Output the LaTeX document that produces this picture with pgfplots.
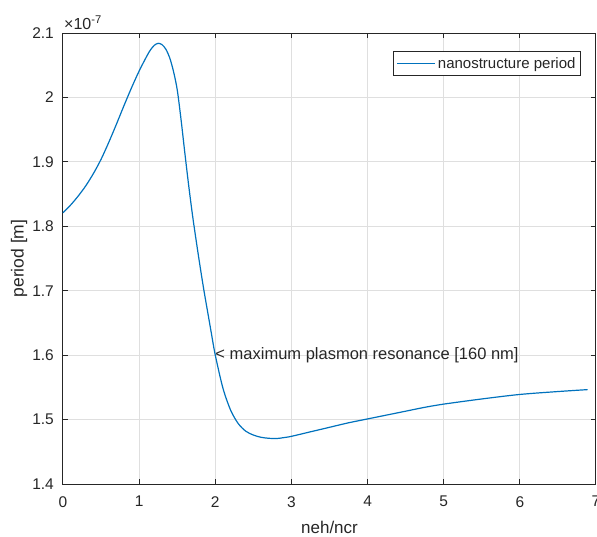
\documentclass[border=0pt]{standalone}
\usepackage{fontspec}
\setmainfont{Liberation Sans}
\usepackage{pgfplots}
\pgfplotsset{compat=1.18}
\definecolor{mlblue}{HTML}{0072BD}
\definecolor{mlaxis}{HTML}{262626}
\definecolor{mlgrid}{HTML}{DFDFDF}

\begin{document}
\begin{tikzpicture}
\begin{axis}[
  name=ax,
  at={(0pt,0pt)},anchor=south west,
  width=533pt,height=451pt,scale only axis,
  xmin=0,xmax=7,ymin=1.4e-7,ymax=2.1e-7,
  xtick={0,1,...,7},
  xticklabels={0,1,2,3,4,5,6,7},
  ytick={1.4e-7,1.5e-7,1.6e-7,1.7e-7,1.8e-7,1.9e-7,2.0e-7,2.1e-7},
  yticklabels={1.4,1.5,1.6,1.7,1.8,1.9,2,2.1},
  scaled y ticks=false,
  axis line style={draw=mlaxis,line width=1pt},
  tick style={draw=mlaxis,line width=1pt},
  major tick length=5pt,
  tick align=inside,
  xmajorgrids,ymajorgrids,
  major grid style={draw=mlgrid,line width=1pt},
  ticklabel style={font=\fontsize{15.5}{17}\selectfont,text=mlaxis},
  xticklabel style={anchor=north,inner sep=0pt,yshift=-12pt},
  yticklabel style={anchor=east,inner sep=0pt,xshift=-9pt},
  xlabel={neh/ncr},
  ylabel={period [m]},
  every axis x label/.style={at={(axis description cs:0.5,0)},anchor=center,yshift=-43pt,font=\fontsize{17}{20}\selectfont,text=mlaxis},
  every axis y label/.style={at={(axis description cs:0,0.5)},xshift=-44pt,anchor=center,rotate=90,font=\fontsize{17.5}{20}\selectfont,text=mlaxis},
  legend style={at={(rel axis cs:1,1)},anchor=north east,xshift=-15pt,yshift=-18pt,
    draw=mlaxis,line width=0.9pt,fill=white,inner xsep=3pt,inner ysep=4pt,
    font=\fontsize{15}{17}\selectfont,text=mlaxis,
    nodes={inner sep=2pt}},
  legend cell align=left,
  legend image code/.code={\draw[#1] (0pt,0pt) -- (38pt,0pt);},
  clip=false,
]
\addplot[color=mlblue,line width=1.2pt,smooth] coordinates {
(0.00,1.821e-7) (0.10,1.833e-7) (0.20,1.847e-7) (0.30,1.863e-7) (0.40,1.882e-7)
(0.50,1.904e-7) (0.60,1.930e-7) (0.70,1.958e-7) (0.80,1.987e-7) (0.90,2.015e-7)
(1.00,2.041e-7) (1.10,2.064e-7) (1.15,2.074e-7) (1.20,2.081e-7) (1.25,2.084e-7)
(1.30,2.082e-7) (1.35,2.075e-7) (1.40,2.062e-7) (1.45,2.041e-7) (1.50,2.012e-7)
(1.55,1.966e-7) (1.60,1.914e-7) (1.65,1.864e-7) (1.70,1.818e-7) (1.75,1.777e-7)
(1.80,1.738e-7) (1.85,1.701e-7) (1.90,1.667e-7) (1.95,1.633e-7) (2.00,1.600e-7)
(2.10,1.549e-7) (2.20,1.515e-7) (2.30,1.494e-7) (2.40,1.482e-7) (2.50,1.476e-7)
(2.60,1.4725e-7) (2.70,1.471e-7) (2.80,1.4705e-7) (2.90,1.472e-7) (3.00,1.474e-7)
(3.25,1.481e-7) (3.50,1.488e-7) (3.75,1.495e-7) (4.00,1.501e-7) (4.25,1.507e-7)
(4.50,1.513e-7) (4.75,1.519e-7) (5.00,1.524e-7) (5.50,1.532e-7) (6.00,1.539e-7)
(6.50,1.5435e-7) (6.89,1.5465e-7)
};
\addlegendentry{nanostructure period}
\node[anchor=west,inner sep=0pt,font=\fontsize{16.5}{18}\selectfont,text=mlaxis]
  at (axis cs:2,1.6e-7) {< maximum plasmon resonance [160 nm]};
\node[anchor=south west,inner sep=0pt,yshift=3pt,xshift=1pt,font=\fontsize{16}{18}\selectfont,text=mlaxis]
  at (rel axis cs:0,1) {×10\textsuperscript{-7}};
\end{axis}
\pgfresetboundingbox
\path[use as bounding box] (-63pt,-52pt) rectangle (534pt,484pt);
\end{tikzpicture}
\end{document}
